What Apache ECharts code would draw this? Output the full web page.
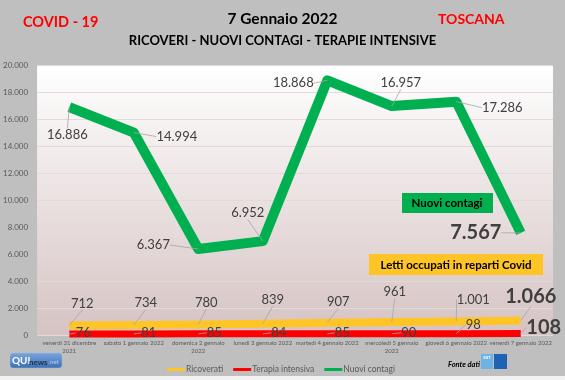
<!DOCTYPE html>
<html><head><meta charset="utf-8">
<script src="https://cdn.jsdelivr.net/npm/echarts@6/dist/echarts.min.js"></script>
<style>html,body{margin:0;padding:0;background:#bfbfbf}#c{width:565px;height:380px}</style>
</head><body><div id="c"></div>
<script>
const categories = ["venerdì 31 dicembre\n2021","sabato 1 gennaio 2022","domenica 2 gennaio\n2022","lunedì 3 gennaio 2022","martedì 4 gennaio 2022","mercoledì 5 gennaio\n2022","giovedì 6 gennaio 2022","venerdì 7 gennaio 2022"];
const ricoverati = [712, 734, 780, 839, 907, 961, 1001, 1066];
const terapiaIntensiva = [76, 81, 85, 84, 85, 90, 98, 108];
const nuoviContagi = [16886, 14994, 6367, 6952, 18868, 16957, 17286, 7567];
const yTicks = [0, 2000, 4000, 6000, 8000, 10000, 12000, 14000, 16000, 18000, 20000];

// label offsets (layout only)
const offGreen = [[-2,28],[43,4],[-45,-4],[-15,-28],[-34,3],[9,-23],[46,6],[-45,0]];
const offYellow = [[13,-22],[12,-22],[8,-22],[10,-24],[11,-21],[3,-30],[17,-22],[10,-24]];
const offRed = [[14,-1],[15,-1],[16,-1],[16,-1],[15,-1],[17,-1],[17,-9],[23,-6]];

const fmt = v => String(v).replace(/\B(?=(\d{3})+(?!\d))/g, '.');
const FONT = 'Lato';

function mkData(arr){
  return arr.map((v,i)=>{
    const d = {value:v};
    if (i === arr.length-1) d.label = {fontSize:20, fontWeight:'bold', color:'#404040'};
    return d;
  });
}
function mkLine(name, arr, color, width, z){
  return {
    name, type:'line', data: arr, z, showSymbol:false, symbol:'none',
    itemStyle:{color},
    lineStyle:{color, width, cap:'butt', join:'round'},
    emphasis:{disabled:true}, animation:false, silent:true
  };
}
function mkLabels(name, arr, offs){
  return {
    name: name + ' (etichette)', type:'line', data: mkData(arr), z:20,
    symbol:'circle', symbolSize:0.1, showSymbol:true,
    itemStyle:{color:'rgba(0,0,0,0)'},
    lineStyle:{width:0, opacity:0},
    label:{show:true, position:'inside', formatter:p=>fmt(p.value), fontFamily:FONT, fontSize:13, color:'#404040', textBorderWidth:0, textBorderColor:'transparent'},
    labelLine:{show:true, lineStyle:{color:'#a6a6a6', width:0.8}},
    labelLayout: p => ({dx: offs[p.dataIndex][0], dy: offs[p.dataIndex][1]}),
    emphasis:{disabled:true}, animation:false, silent:true
  };
}

const chart = echarts.init(document.getElementById('c'));
chart.setOption({
  backgroundColor:'#bfbfbf',
  animation:false,
  textStyle:{fontFamily:FONT},
  title:[
    {text:'COVID - 19', left:18, top:10, textStyle:{fontFamily:FONT, fontSize:14.5, fontWeight:'bold', color:'#ff0000'}},
    {text:'7 Gennaio 2022', left:'center', top:6, textStyle:{fontFamily:FONT, fontSize:15.5, fontWeight:'bold', color:'#000'}},
    {text:'RICOVERI - NUOVI CONTAGI - TERAPIE INTENSIVE', left:'center', top:29, textStyle:{fontFamily:FONT, fontSize:13, fontWeight:'bold', color:'#000'}},
    {text:'TOSCANA', left:433, top:7, textStyle:{fontFamily:FONT, fontSize:14, fontWeight:'bold', color:'#ff0000'}}
  ],
  grid:{left:37, right:12, top:65, bottom:45, show:true, borderWidth:0,
    backgroundColor:new echarts.graphic.LinearGradient(0,0,0,1,[{offset:0,color:'#ffffff'},{offset:1,color:'#d6c3c3'}])},
  legend:{left:162, top:360, itemWidth:18, itemHeight:3, itemGap:10, icon:'rect',
    textStyle:{fontFamily:FONT, fontSize:8.5, color:'#595959', padding:[0,0,0,-4]},
    data:['Ricoverati','Terapia intensiva','Nuovi contagi']},
  xAxis:{type:'category', data:categories, boundaryGap:true,
    axisLine:{show:false}, axisTick:{show:false},
    axisLabel:{fontFamily:FONT, fontSize:6, color:'#595959', margin:4, lineHeight:8, interval:0}},
  yAxis:{type:'value', min:0, max:20000, interval:2000,
    axisLine:{show:false}, axisTick:{show:false},
    axisLabel:{fontFamily:FONT, fontSize:8, color:'#595959', margin:9, formatter:v=>fmt(v)},
    splitLine:{lineStyle:{color:'#e2dada', width:1}}},
  series:[
    mkLine('Ricoverati', ricoverati, '#ffc526', 8, 2),
    mkLine('Terapia intensiva', terapiaIntensiva, '#ff0000', 7, 3),
    mkLine('Nuovi contagi', nuoviContagi, '#00b050', 10, 4),
    mkLabels('Ricoverati', ricoverati, offYellow),
    mkLabels('Terapia intensiva', terapiaIntensiva, offRed),
    mkLabels('Nuovi contagi', nuoviContagi, offGreen)
  ],
  graphic:[
    {type:'rect', z:10, shape:{x:402, y:193, width:91, height:20}, style:{fill:'#00b050'}},
    {type:'text', z:11, x:447, y:203, style:{text:'Nuovi contagi', fontFamily:FONT, fontSize:11.5, fontWeight:'bold', fill:'#000', align:'center', verticalAlign:'middle'}},
    {type:'rect', z:10, shape:{x:369, y:254, width:174, height:21}, style:{fill:'#ffc526'}},
    {type:'text', z:11, x:456, y:265, style:{text:'Letti occupati in reparti Covid', fontFamily:FONT, fontSize:11.5, fontWeight:'bold', fill:'#000', align:'center', verticalAlign:'middle'}},
    {type:'text', z:11, x:448, y:365, style:{text:'Fonte dati', fontFamily:FONT, fontSize:7.5, fontWeight:'bold', fontStyle:'italic', fill:'#000', verticalAlign:'middle'}},
    {type:'rect', z:11, shape:{x:481, y:354, width:12, height:15}, style:{fill:'#6fb3e6'}},
    {type:'text', z:12, x:487, y:358, style:{text:'SST', fontFamily:FONT, fontSize:4.5, fontWeight:'bold', fill:'#fff', align:'center', verticalAlign:'middle'}},
    {type:'rect', z:11, shape:{x:494, y:354, width:13, height:15}, style:{fill:'#1f62b4'}},
    {type:'rect', z:11, shape:{x:10, y:353, width:52, height:15, r:3}, style:{fill:new echarts.graphic.LinearGradient(0,0,0,1,[{offset:0,color:'#7aa6dc'},{offset:1,color:'#3b6fb2'}]), stroke:'#9fb9da', lineWidth:0.5}},
    {type:'text', z:12, x:12, y:361, style:{text:'QUI', fontFamily:FONT, fontSize:10, fontWeight:'bold', fill:'#ffffff', verticalAlign:'middle'}},
    {type:'text', z:12, x:29, y:362, style:{text:'news', fontFamily:FONT, fontSize:8, fontWeight:'bold', fill:'#1c2f4d', verticalAlign:'middle'}},
    {type:'text', z:12, x:48, y:362, style:{text:'.net', fontFamily:FONT, fontSize:6.5, fill:'#a9c8ee', verticalAlign:'middle'}},
    {type:'rect', z:1, shape:{x:0, y:376, width:565, height:4}, style:{fill:'#f2f2f2'}}
  ]
});
</script></body></html>
